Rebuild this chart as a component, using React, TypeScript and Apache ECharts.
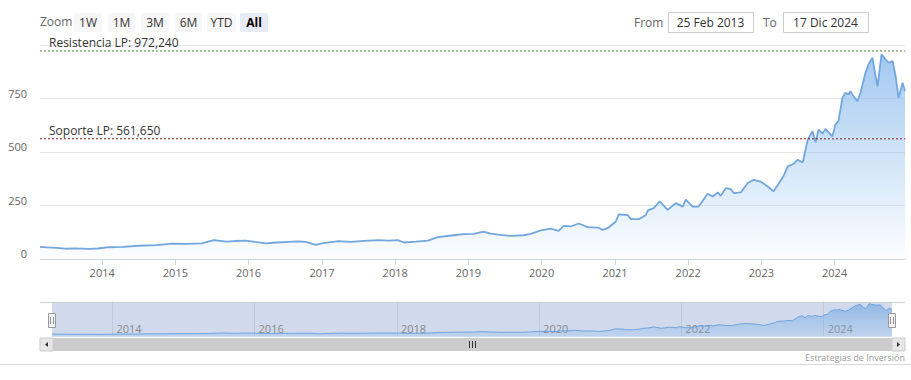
import React, { useEffect, useRef } from 'react';
import * as echarts from 'echarts';

// ---- data ----
const dates: string[] = [
  '2013-02-25', '2013-04-01', '2013-05-01', '2013-07-04', '2013-08-20', '2013-10-27', '2013-12-10',
  '2014-02-05', '2014-04-15', '2014-07-03', '2014-10-01', '2014-12-15', '2015-02-20', '2015-05-13',
  '2015-07-12', '2015-09-10', '2015-10-25', '2015-12-18', '2016-02-01', '2016-03-27', '2016-05-20',
  '2016-07-19', '2016-09-01', '2016-10-12', '2016-12-01', '2017-01-01', '2017-03-25', '2017-05-25',
  '2017-08-01', '2017-10-06', '2017-12-01', '2018-01-14', '2018-02-13', '2018-04-15', '2018-06-13',
  '2018-08-02', '2018-10-20', '2018-12-09', '2019-01-28', '2019-03-18', '2019-04-22', '2019-06-01',
  '2019-07-31', '2019-10-04', '2019-11-08', '2019-12-28', '2020-02-15', '2020-03-26', '2020-04-20',
  '2020-05-26', '2020-07-04', '2020-08-18', '2020-10-07', '2020-11-01', '2020-12-01', '2021-01-05',
  '2021-01-20', '2021-03-06', '2021-03-21', '2021-04-30', '2021-06-04', '2021-06-14', '2021-07-13',
  '2021-08-12', '2021-09-21', '2021-10-31', '2021-12-05', '2021-12-20', '2022-01-23', '2022-02-22',
  '2022-04-08', '2022-05-03', '2022-05-28', '2022-06-12', '2022-07-07', '2022-08-01', '2022-08-16',
  '2022-09-20', '2022-10-25', '2022-11-24', '2022-12-28', '2023-02-01', '2023-03-03', '2023-03-28',
  '2023-04-22', '2023-05-12', '2023-06-11', '2023-07-01', '2023-07-26', '2023-07-31', '2023-08-20',
  '2023-09-13', '2023-09-28', '2023-10-13', '2023-11-02', '2023-11-16', '2023-12-21', '2024-01-05',
  '2024-01-20', '2024-02-09', '2024-02-24', '2024-03-10', '2024-03-20', '2024-04-04', '2024-04-24',
  '2024-05-09', '2024-06-03', '2024-06-18', '2024-07-08', '2024-07-23', '2024-08-02', '2024-08-22',
  '2024-09-11', '2024-09-26', '2024-10-16', '2024-10-31', '2024-11-15', '2024-12-05', '2024-12-17',
];
const values: number[] = [
  57, 54, 53, 48, 50, 47, 49,
  55, 57, 62, 65, 72, 71, 73,
  88, 81, 84, 86, 80, 73, 77,
  80, 82, 80, 66, 73, 84, 80,
  85, 88, 86, 88, 77, 81, 86,
  102, 111, 116, 117, 128, 119, 114,
  108, 111, 117, 134, 142, 131, 155,
  152, 166, 149, 147, 136, 147, 175,
  209, 205, 186, 186, 206, 227, 238,
  269, 230, 261, 245, 277, 245, 245,
  305, 292, 311, 295, 331, 327, 308,
  311, 355, 370, 362, 339, 316, 352,
  389, 433, 445, 464, 451, 472, 558,
  597, 545, 605, 586, 608, 573, 628,
  644, 753, 777, 769, 784, 761, 738,
  777, 871, 910, 941, 855, 808, 956,
  933, 917, 925, 855, 753, 824, 784,
];
const yTicks: number[] = [0, 250, 500, 750, 1000];
const mainYears: number[] = [2014, 2015, 2016, 2017, 2018, 2019, 2020, 2021, 2022, 2023, 2024];
const navYears: number[] = [2014, 2016, 2018, 2020, 2022, 2024];
const resistance = 972.24;
const support = 561.65;
const resistanceName = 'Resistencia LP';
const supportName = 'Soporte LP';
const rangeStart = '2013-02-25';
const rangeEnd = '2024-12-17';
const fromLabel = '25 Feb 2013';
const toLabel = '17 Dic 2024';
const zoomButtons: string[] = ['1W', '1M', '3M', '6M', 'YTD', 'All'];
const credit = 'Estrategias de Inversión';

const FONT = '"Open Sans", "DejaVu Sans", sans-serif';

function ts(s: string): number {
  const [y, m, d] = s.split('-').map(Number);
  return new Date(y, m - 1, d).getTime();
}
function yearTs(y: number): number {
  return new Date(y, 0, 1).getTime();
}
function fmt(v: number): string {
  return v.toFixed(3).replace('.', ',');
}

function levelSeries(value: number, name: string, color: string, minT: number, maxT: number) {
  return {
    type: 'line', xAxisIndex: 0, yAxisIndex: 0, z: 4, silent: true,
    symbol: 'circle', symbolSize: 0, showSymbol: true,
    lineStyle: { color, type: [2, 2], width: 1 },
    itemStyle: { color },
    emphasis: { disabled: true },
    data: [
      {
        value: [minT, value],
        label: {
          show: true, formatter: `${name}: ${fmt(value)}`, position: [9, -14],
          align: 'left', verticalAlign: 'top', color: '#333', fontSize: 12, fontFamily: FONT,
        },
      },
      { value: [maxT, value], label: { show: false } },
    ],
  };
}

export default function App() {
  const ref = useRef<HTMLDivElement>(null);

  useEffect(() => {
    document.body.style.margin = '0';
    const chart = echarts.init(ref.current as HTMLDivElement, null, { renderer: 'svg' });
    const data = dates.map((d, i) => [ts(d), values[i]]);
    const minT = ts(rangeStart);
    const maxT = ts(rangeEnd);
    const yearLabel = (v: number) => String(new Date(v + 86400000).getFullYear());

    const btnX = [74, 108, 141, 175, 207, 240];
    const btnW = [28, 27, 28, 27, 29, 28];
    const graphics: any[] = [];
    graphics.push({
      type: 'text', left: 40, top: 15,
      style: { text: 'Zoom', fill: '#666', font: `12px ${FONT}` },
    });
    zoomButtons.forEach((b, i) => {
      const sel = b === 'All';
      graphics.push({
        type: 'rect', shape: { x: btnX[i], y: 13, width: btnW[i], height: 19, r: 2 },
        style: { fill: sel ? '#e6ebf5' : '#f7f7f7' },
      });
      graphics.push({
        type: 'text', x: btnX[i] + btnW[i] / 2, y: 22.5,
        style: {
          text: b, fill: sel ? '#000' : '#333', align: 'center', verticalAlign: 'middle',
          font: `${sel ? 'bold ' : ''}12px ${FONT}`,
        },
      });
    });
    graphics.push({
      type: 'text', x: 634, y: 22.5,
      style: { text: 'From', fill: '#666', verticalAlign: 'middle', font: `12px ${FONT}` },
    });
    graphics.push({
      type: 'rect', shape: { x: 668.5, y: 12.5, width: 85, height: 20 },
      style: { fill: '#fff', stroke: '#cccccc', lineWidth: 1 },
    });
    graphics.push({
      type: 'text', x: 710.5, y: 22.5,
      style: { text: fromLabel, fill: '#333', align: 'center', verticalAlign: 'middle', font: `12px ${FONT}` },
    });
    graphics.push({
      type: 'text', x: 763, y: 22.5,
      style: { text: 'To', fill: '#666', verticalAlign: 'middle', font: `12px ${FONT}` },
    });
    graphics.push({
      type: 'rect', shape: { x: 783.5, y: 12.5, width: 85, height: 20 },
      style: { fill: '#fff', stroke: '#cccccc', lineWidth: 1 },
    });
    graphics.push({
      type: 'text', x: 825.5, y: 22.5,
      style: { text: toLabel, fill: '#333', align: 'center', verticalAlign: 'middle', font: `12px ${FONT}` },
    });
    // navigator mask + outline
    graphics.push({
      type: 'rect', z: 0, shape: { x: 52, y: 302, width: 840, height: 35 },
      style: { fill: 'rgba(102,133,194,0.3)' },
    });
    graphics.push({
      type: 'line', z: 5, shape: { x1: 40, y1: 302.5, x2: 905, y2: 302.5 },
      style: { stroke: '#cccccc', lineWidth: 1 },
    });
    // handles
    [52, 892].forEach((hx) => {
      graphics.push({
        type: 'rect', z: 6, shape: { x: hx - 3.5, y: 313.5, width: 7, height: 14 },
        style: { fill: '#f2f2f2', stroke: '#999', lineWidth: 1 },
      });
      graphics.push({
        type: 'line', z: 7, shape: { x1: hx - 1.5, y1: 317, x2: hx - 1.5, y2: 324 },
        style: { stroke: '#999', lineWidth: 1 },
      });
      graphics.push({
        type: 'line', z: 7, shape: { x1: hx + 1.5, y1: 317, x2: hx + 1.5, y2: 324 },
        style: { stroke: '#999', lineWidth: 1 },
      });
    });
    // scrollbar
    graphics.push({
      type: 'rect', shape: { x: 40, y: 338, width: 865, height: 13 },
      style: { fill: '#f2f2f2' },
    });
    graphics.push({
      type: 'rect', shape: { x: 52, y: 338, width: 840, height: 13 },
      style: { fill: '#cccccc' },
    });
    [40, 892].forEach((bx) => {
      graphics.push({
        type: 'rect', shape: { x: bx, y: 338, width: 13, height: 13 },
        style: { fill: '#e6e6e6', stroke: '#cccccc', lineWidth: 1 },
      });
    });
    graphics.push({
      type: 'polygon', shape: { points: [[48, 342], [48, 347], [45, 344.5]] },
      style: { fill: '#333' },
    });
    graphics.push({
      type: 'polygon', shape: { points: [[897, 342], [897, 347], [900, 344.5]] },
      style: { fill: '#333' },
    });
    [469, 472, 475].forEach((gx) => {
      graphics.push({
        type: 'line', shape: { x1: gx + 0.5, y1: 341, x2: gx + 0.5, y2: 348 },
        style: { stroke: '#333', lineWidth: 1 },
      });
    });
    graphics.push({
      type: 'text', x: 905, y: 357,
      style: { text: credit, fill: '#999', align: 'right', verticalAlign: 'middle', font: `9px ${FONT}` },
    });
    graphics.push({
      type: 'line', shape: { x1: 0, y1: 364.5, x2: 911, y2: 364.5 },
      style: { stroke: '#d9d9d9', lineWidth: 1 },
    });

    const option: any = {
      animation: false,
      textStyle: { fontFamily: FONT },
      grid: [
        { left: 40, right: 6, top: 45, height: 214 },
        { left: 52, right: 19, top: 302, height: 35 },
      ],
      xAxis: [
        {
          type: 'value', gridIndex: 0, min: minT, max: maxT,
          axisLine: { lineStyle: { color: '#ccd6eb', width: 1 } },
          axisTick: { customValues: mainYears.map(yearTs), length: 6, lineStyle: { color: '#ccd6eb' } },
          axisLabel: {
            customValues: mainYears.map(yearTs), formatter: yearLabel,
            color: '#666', fontSize: 11, fontFamily: FONT, margin: 8,
          },
          splitLine: { show: false },
        },
        {
          type: 'value', gridIndex: 1, min: minT, max: maxT,
          axisLine: { show: false },
          axisTick: {
            customValues: navYears.map(yearTs), inside: true, length: 35,
            lineStyle: { color: 'rgba(0,0,0,0.08)' },
          },
          axisLabel: {
            customValues: navYears.map(yearTs), formatter: yearLabel, inside: true,
            align: 'left', padding: [0, 0, 0, 4], color: '#888', fontSize: 11, fontFamily: FONT, margin: 3,
          },
          splitLine: { show: false },
        },
      ],
      yAxis: [
        {
          type: 'value', gridIndex: 0, min: yTicks[0], max: yTicks[yTicks.length - 1], interval: 250,
          axisLine: { show: false }, axisTick: { show: false },
          axisLabel: {
            showMaxLabel: false, color: '#666', fontSize: 11, fontFamily: FONT, margin: 13,
            verticalAlign: 'bottom',
          },
          splitLine: { lineStyle: { color: '#e6e6e6' } },
        },
        { type: 'value', gridIndex: 1, min: -30, max: 1010, show: false },
      ],
      series: [
        {
          type: 'line', xAxisIndex: 0, yAxisIndex: 0, data, symbol: 'none', z: 3,
          lineStyle: { color: '#72a6de', width: 1.8 },
          areaStyle: {
            color: new echarts.graphic.LinearGradient(0, 0, 0, 1, [
              { offset: 0, color: 'rgba(120,176,234,0.98)' },
              { offset: 1, color: 'rgba(124,181,236,0.03)' },
            ]),
          },
        },
        levelSeries(resistance, resistanceName, '#4d7f2c', minT, maxT),
        levelSeries(support, supportName, '#8e1c1c', minT, maxT),
        {
          type: 'line', xAxisIndex: 1, yAxisIndex: 1, data, symbol: 'none', z: 3,
          lineStyle: { color: '#6ea3dc', width: 1 },
          areaStyle: {
            color: new echarts.graphic.LinearGradient(0, 0, 0, 1, [
              { offset: 0, color: 'rgba(110,163,220,0.9)' },
              { offset: 1, color: 'rgba(124,181,236,0.3)' },
            ]),
          },
        },
      ],
      graphic: graphics,
    };
    chart.setOption(option);
    return () => chart.dispose();
  }, []);

  return <div ref={ref} style={{ position: 'absolute', left: 0, top: 0, width: 911, height: 380 }} />;
}
